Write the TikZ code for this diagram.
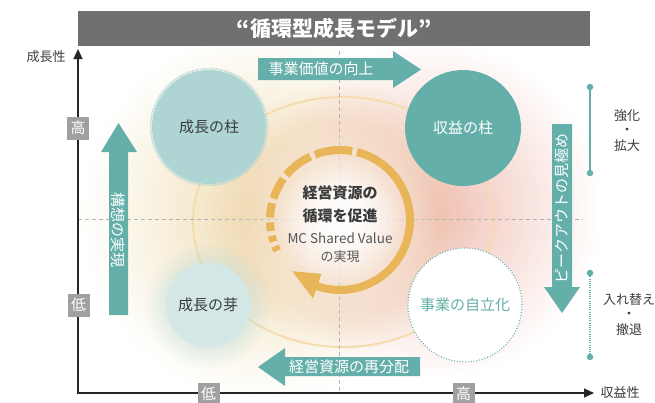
\documentclass[tikz,border=0pt]{standalone}
\usepackage{fontspec}
\setmainfont{Noto Sans CJK JP}
\usetikzlibrary{arrows.meta,fadings,calc}
\definecolor{tealD}{HTML}{64AFA9}
\definecolor{tealL}{HTML}{AED5D3}
\definecolor{tealP}{HTML}{D3E8E6}
\definecolor{titleG}{HTML}{707070}
\definecolor{boxG}{HTML}{A0A0A0}
\definecolor{txtD}{HTML}{3C3C3C}
\definecolor{txtM}{HTML}{555555}
\definecolor{gold}{HTML}{E8B558}
\definecolor{ringL}{HTML}{F5DCAE}
\definecolor{pinkG}{HTML}{F0BFB3}
\definecolor{yelG}{HTML}{F0DDB0}
\definecolor{peachG}{HTML}{EFCBAA}
\definecolor{dashG}{HTML}{B4B4B4}
\tikzfading[name=glowfade, inner color=transparent!0, outer color=transparent!100]
\begin{document}
\begin{tikzpicture}[x=1pt,y=-1pt,
  lbl/.style={font=\fontsize{13}{13}\selectfont, text=txtD, inner sep=0pt},
  gbox/.style={fill=boxG, text=white, minimum width=22pt, minimum height=23pt, inner sep=0pt, font=\fontsize{15}{15}\selectfont},
  arrowtxt/.style={text=white, font=\fontsize{15}{15}\selectfont, inner sep=0pt},
  bubble/.style={circle, inner sep=0pt, font=\fontsize{15}{15}\selectfont},
  dashln/.style={dashG, line width=0.8pt, dash pattern=on 4pt off 3pt},
  ringseg/.style={gold, line width=8pt},
  dotend/.style={circle, fill=tealD, inner sep=0pt, minimum size=6.5pt}]
\useasboundingbox (0,0) rectangle (655,402);
% background glow
\fill[yelG, path fading=glowfade] (265,215) circle (185);
\fill[pinkG, path fading=glowfade] (432,210) circle (170);
\fill[peachG, path fading=glowfade] (340,218) circle (135);
\draw[ringL, line width=2pt] (343,222) ellipse [x radius=150, y radius=125];
% dashed guide lines
\coordinate (hL) at (78,219);
\coordinate (hR) at (583,219);
\coordinate (vT) at (339,51);
\coordinate (vB) at (339,393);
\draw[dashln] (hL) -- (hR);
\draw[dashln] (vT) -- (vB);
% white centre
\fill[white, path fading=glowfade] (340,220) circle (100);
\fill[white, path fading=glowfade] (340,220) circle (62);
% title
\node[fill=titleG, minimum width=512pt, minimum height=35pt, inner sep=0pt, text=white,
  font=\fontsize{21}{21}\selectfont\bfseries] (title) at (334,28.5) {“循環型成長モデル”};
% bubbles
\fill[tealL, path fading=glowfade] (208,305) circle (64);
\node[bubble, fill=tealP, minimum size=84pt, text=txtD] (sprout) at (208,305) {成長の芽};
\node[bubble, fill=tealL, minimum size=114pt, text=txtD] (pillarG) at (209,127) {成長の柱};
\draw[tealL, line width=1.6pt, dash pattern=on 0.8pt off 0.8pt] (pillarG.center) circle (58.3);
\node[bubble, fill=tealD, minimum size=116pt, text=white] (pillarR) at (463,128) {収益の柱};
\node[bubble, fill=white, draw=tealD, line width=1.1pt, dash pattern=on 1pt off 1.8pt,
  minimum size=114pt, text=tealD] (indep) at (465,305) {事業の自立化};
% central circular arrow
\coordinate (rc) at (340,220);
\draw[ringseg] (rc) ++(-76:70) arc[start angle=-76, end angle=110, radius=70];
\fill[gold] ($(rc)+(109:83)$) -- ($(rc)+(133:70)$) -- ($(rc)+(109:57)$) -- cycle;
\foreach \a/\b in {80/111,115/140,144/162,166/178,182/189,193/198,202/206}{
  \draw[ringseg] (rc) ++(-\a:70) arc[start angle=-\a, end angle=-\b, radius=70];
}
\node[font=\fontsize{15}{15}\selectfont\bfseries, text=txtD, inner sep=0pt] (c1) at (340,193) {経営資源の};
\node[font=\fontsize{15}{15}\selectfont\bfseries, text=txtD, inner sep=0pt] (c2) at (340,216) {循環を促進};
\node[font=\fontsize{13.5}{13.5}\selectfont, text=txtM, inner sep=0pt] (c3) at (340,238) {MC Shared Value};
\node[font=\fontsize{13}{13}\selectfont, text=txtM, inner sep=0pt] (c4) at (340,256.5) {の実現};
% arrows
\fill[tealD] (258,58) -- (393,58) -- (393,51) -- (421,69.5) -- (393,88) -- (393,80) -- (258,80) -- cycle;
\node[arrowtxt] (tVal) at (321,69) {事業価値の向上};
\fill[tealD] (420,357) -- (285,357) -- (285,348) -- (258,367) -- (285,386) -- (285,376) -- (420,376) -- cycle;
\node[arrowtxt] (tRes) at (349,366.5) {経営資源の再分配};
\fill[tealD] (109,315) -- (109,152) -- (101,152) -- (118.5,123) -- (137,152) -- (128,152) -- (128,315) -- cycle;
\node[arrowtxt, rotate=-90] (tPlan) at (118.5,230) {構想の実現};
\fill[tealD] (552,124) -- (572,124) -- (572,287) -- (580,287) -- (562,313) -- (544,287) -- (552,287) -- cycle;
\node[arrowtxt, rotate=90] (tPeak) at (562,208) {ピークアウトの見極め};
% axes
\coordinate (O) at (78,393);
\coordinate (Ytop) at (78,49);
\coordinate (Xend) at (594,393);
\draw[line width=1.2pt, black!85, {Triangle[width=9pt,length=10pt]}-{Triangle[width=9pt,length=10pt]}] (Ytop) -- (O) -- (Xend);
\node[lbl] (ylab) at (46,57) {成長性};
\node[lbl] (xlab) at (620,393) {収益性};
\node[gbox] (yHi) at (78,128) {高};
\node[gbox] (yLo) at (78.5,305) {低};
\node[gbox] (xLo) at (208.5,394) {低};
\node[gbox] (xHi) at (463.5,394) {高};
% right brackets
\node[dotend] (b1t) at (590,87) {};
\node[dotend] (b1b) at (590,173) {};
\draw[tealD, line width=1.3pt] (b1t) -- (b1b);
\node[dotend] (b2t) at (590,273) {};
\node[dotend] (b2b) at (590,357) {};
\draw[tealD, line width=1.2pt, dash pattern=on 1pt off 1.2pt] (b2t) -- (b2b);
\node[lbl] (s1) at (627,116) {強化};
\node[lbl] (s2) at (627,131) {・};
\node[lbl] (s3) at (627,146) {拡大};
\node[lbl] (r1) at (629,300) {入れ替え};
\node[lbl] (r2) at (629,315) {・};
\node[lbl] (r3) at (629,330) {撤退};
\end{tikzpicture}
\end{document}
